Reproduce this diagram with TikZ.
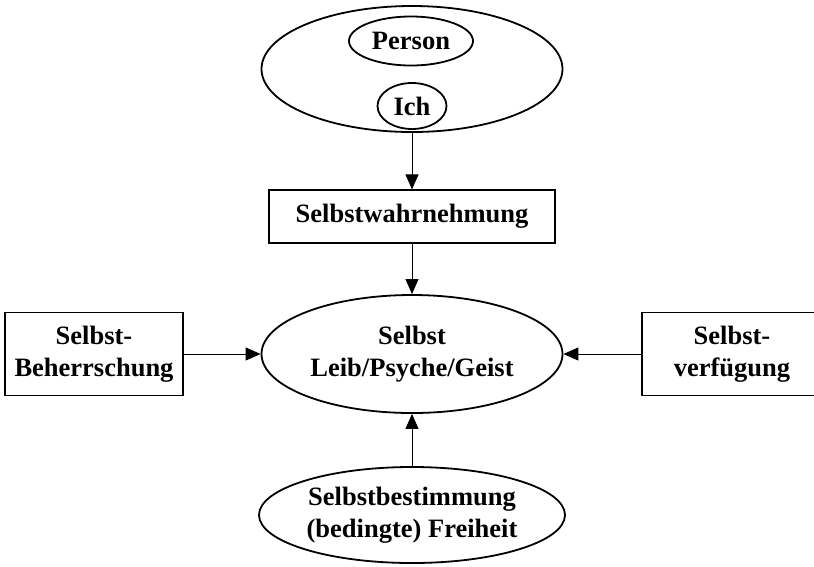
\documentclass[tikz,border=0pt]{standalone}
\usepackage{fontspec}
\setmainfont{Liberation Serif}
\usetikzlibrary{arrows.meta,shapes.geometric}
\begin{document}
\begin{tikzpicture}[x=1pt,y=-1pt,
  lbl/.style={font=\fontsize{26.5}{32}\selectfont\bfseries,align=center},
  ell/.style={draw,line width=1.8pt,ellipse,inner sep=0pt},
  box/.style={draw,line width=1.2pt,rectangle,inner sep=0pt},
  arr/.style={line width=0.9pt,-{Triangle[length=15pt,width=13pt]}}]
\useasboundingbox (0,0) rectangle (814,566);
\node[ell,minimum width=301pt,minimum height=126pt] (top) at (412,69) {};
\node[ell,minimum width=124pt,minimum height=49pt,lbl] (person) at (411,41) {Person};
\node[ell,minimum width=69pt,minimum height=46pt,lbl] (ich) at (412,106) {Ich};
\node[box,minimum width=286pt,minimum height=53pt,lbl] (wahr) at (412,216.5) {Selbstwahrnehmung};
\node[ell,minimum width=301pt,minimum height=118pt,lbl] (selbst) at (412,354) {Selbst\\Leib/Psyche/Geist};
\node[box,minimum width=178pt,minimum height=83pt,lbl] (beh) at (94,354) {Selbst-\\Beherrschung};
\node[box,minimum width=180pt,minimum height=83pt,lbl] (verf) at (732,354) {Selbst-\\verfügung};
\node[ell,minimum width=306pt,minimum height=96pt,lbl] (best) at (412,515) {Selbstbestimmung\\(bedingte) Freiheit};
\draw[arr] (top.south) -- (wahr.north);
\draw[arr] (wahr.south) -- (selbst.north);
\draw[arr] (beh.east) -- (selbst.west);
\draw[arr] (verf.west) -- (selbst.east);
\draw[arr] (best.north) -- (selbst.south);
\end{tikzpicture}
\end{document}
